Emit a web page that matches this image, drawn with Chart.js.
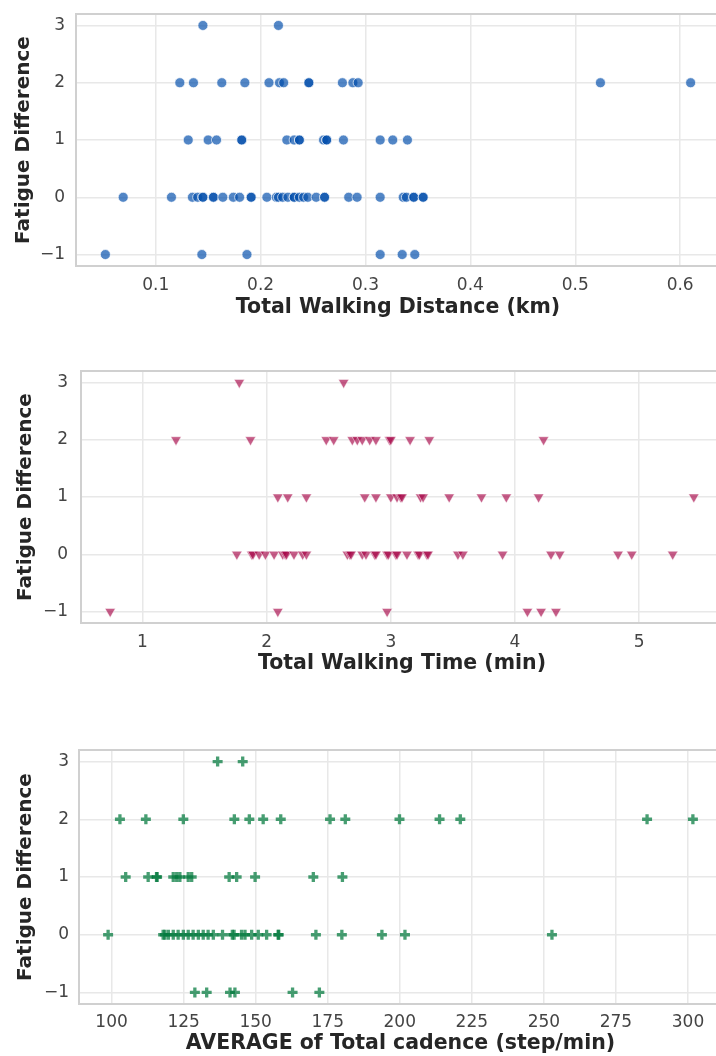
<!DOCTYPE html>
<html><head><meta charset="utf-8">
<script src="https://cdn.jsdelivr.net/npm/chart.js@4.4.0/dist/chart.umd.min.js"></script>
<style>
html,body{margin:0;padding:0;background:#fff;width:716px;height:1056px;overflow:hidden;position:relative;}
.p{position:absolute;left:0;}
canvas{display:block;}
</style></head><body>
<div class="p" style="top:0px"><canvas id="c1" width="740" height="330"></canvas></div>
<div class="p" style="top:357px"><canvas id="c2" width="740" height="330"></canvas></div>
<div class="p" style="top:736px"><canvas id="c3" width="740" height="320"></canvas></div>
<script>
// ---------- DATA ----------
const fatigueTicks = [-1, 0, 1, 2, 3];
const fatigueTickLabels = ['\u22121', '0', '1', '2', '3'];

// Panel 1: Total Walking Distance (km), grouped by Fatigue Difference
const distFd3  = [0.145, 0.217];
const distFd2  = [0.123, 0.136, 0.163, 0.185, 0.208, 0.218, 0.222, 0.246, 0.246, 0.278, 0.288, 0.293, 0.524, 0.610];
const distFd1  = [0.131, 0.150, 0.158, 0.182, 0.182, 0.225, 0.232, 0.237, 0.237, 0.260, 0.263, 0.263, 0.279, 0.314, 0.326, 0.340];
const distFd0  = [0.069, 0.115, 0.135, 0.140, 0.145, 0.145, 0.155, 0.155, 0.164, 0.174, 0.180, 0.191, 0.191, 0.206, 0.215, 0.217, 0.221, 0.226, 0.232, 0.232, 0.237, 0.241, 0.245, 0.253, 0.261, 0.261, 0.284, 0.292, 0.314, 0.336, 0.339, 0.346, 0.346, 0.355, 0.355];
const distFdM1 = [0.052, 0.144, 0.187, 0.314, 0.335, 0.347];
const distTicks = [0.1, 0.2, 0.3, 0.4, 0.5, 0.6];
const distTickLabels = ['0.1', '0.2', '0.3', '0.4', '0.5', '0.6'];

// Panel 2: Total Walking Time (min)
const timeFd3  = [1.78, 2.62];
const timeFd2  = [1.27, 1.87, 2.48, 2.54, 2.69, 2.73, 2.77, 2.83, 2.88, 2.99, 3.00, 3.155, 3.31, 4.23];
const timeFd1  = [2.09, 2.17, 2.32, 2.79, 2.88, 3.00, 3.05, 3.08, 3.09, 3.24, 3.26, 3.47, 3.73, 3.93, 4.19, 5.44];
const timeFd0  = [1.76, 1.88, 1.89, 1.94, 1.99, 2.06, 2.13, 2.15, 2.16, 2.22, 2.29, 2.32, 2.65, 2.67, 2.68, 2.77, 2.80, 2.87, 2.88, 2.97, 2.98, 3.04, 3.05, 3.13, 3.22, 3.23, 3.29, 3.30, 3.54, 3.58, 3.90, 4.29, 4.36, 4.83, 4.94, 5.27];
const timeFdM1 = [0.74, 2.09, 2.97, 4.10, 4.21, 4.33];
const timeTicks = [1, 2, 3, 4, 5];
const timeTickLabels = ['1', '2', '3', '4', '5'];

// Panel 3: AVERAGE of Total cadence (step/min)
const cadFd3  = [136.8, 145.5];
const cadFd2  = [102.9, 111.9, 124.9, 142.6, 147.8, 152.6, 158.7, 175.8, 181.1, 199.9, 213.8, 221.0, 285.8, 301.7];
const cadFd1  = [104.9, 112.7, 115.6, 115.8, 121.4, 122.6, 123.7, 126.6, 127.8, 140.8, 143.4, 149.8, 170.0, 180.1];
const cadFd0  = [98.8, 117.9, 118.5, 119.7, 121.4, 123.1, 124.9, 126.6, 128.3, 130.1, 131.8, 133.5, 135.3, 138.5, 141.9, 142.5, 145.1, 146.3, 148.6, 150.9, 153.8, 157.8, 158.0, 170.9, 179.9, 193.8, 201.8, 252.8];
const cadFdM1 = [128.9, 133.0, 141.1, 142.8, 162.8, 172.1];
const cadTicks = [100, 125, 150, 175, 200, 225, 250, 275, 300];
const cadTickLabels = ['100', '125', '150', '175', '200', '225', '250', '275', '300'];

function toPoints(groups) {
  const pts = [];
  groups.forEach(([fd, xs]) => xs.forEach(x => pts.push({x: x, y: fd})));
  return pts;
}

// ---------- DRAWING ----------
const frame = {
  id: 'frame',
  beforeDatasetsDraw(chart) {
    const {ctx, chartArea: a} = chart;
    ctx.save();
    ctx.strokeStyle = '#d0d0d0';
    ctx.lineWidth = 2;
    ctx.strokeRect(a.left, a.top, a.right - a.left, a.bottom - a.top);
    ctx.restore();
  }
};

const FONT = 'DejaVu Sans';

function panel(id, p) {
  return new Chart(document.getElementById(id), {
    type: 'scatter',
    data: { datasets: [{
      data: p.points,
      pointStyle: p.style,
      rotation: p.rotation || 0,
      pointRadius: p.radius,
      pointHoverRadius: p.radius,
      backgroundColor: p.fill,
      borderColor: p.edge,
      borderWidth: p.edgeWidth
    }]},
    options: {
      responsive: false, animation: false, events: [],
      layout: { padding: { top: 14, right: p.padRight, bottom: 0, left: 0 } },
      plugins: { legend: { display: false }, tooltip: { enabled: false } },
      scales: {
        x: {
          type: 'linear', position: 'bottom', min: p.xMin, max: p.xMax,
          afterBuildTicks: s => { s.ticks = p.xTicks.map(v => ({value: v})); },
          afterFit: s => { s.height = p.axisH; s.paddingLeft = 0; s.paddingRight = 0; },
          grid: { color: '#e8e8e8', lineWidth: 1.5, drawTicks: false },
          border: { display: false },
          ticks: { padding: p.tickPad, color: '#444', autoSkip: false, maxRotation: 0,
                   font: { family: FONT, size: 17 },
                   callback: (v, i) => p.xTickLabels[i] },
          title: { display: true, text: p.xTitle, color: '#262626',
                   font: { family: FONT, size: 20.5, weight: 'bold' },
                   padding: { top: 0, bottom: p.titlePad } }
        },
        y: {
          type: 'linear', position: 'left', min: -1.2, max: 3.2,
          afterBuildTicks: s => { s.ticks = fatigueTicks.map(v => ({value: v})); },
          afterFit: s => { s.width = p.yWidth; s.paddingTop = 0; s.paddingBottom = 0; },
          grid: { color: '#e8e8e8', lineWidth: 1.5, drawTicks: false },
          border: { display: false },
          ticks: { padding: p.yTickPad, color: '#444',
                   font: { family: FONT, size: 17 },
                   callback: (v, i) => fatigueTickLabels[i] },
          title: { display: true, text: 'Fatigue Difference', color: '#262626',
                   font: { family: FONT, size: 20, weight: 'bold' },
                   padding: { top: p.yTitlePad, bottom: 0 } }
        }
      }
    },
    plugins: [frame]
  });
}

panel('c1', {
  points: toPoints([[3, distFd3], [2, distFd2], [1, distFd1], [0, distFd0], [-1, distFdM1]]),
  style: 'circle', radius: 5, fill: 'rgba(0,76,171,0.68)', edge: 'rgba(255,255,255,0.85)', edgeWidth: 0.8,
  xMin: 0.024, xMax: 0.638, xTicks: distTicks, xTickLabels: distTickLabels,
  xTitle: 'Total Walking Distance (km)',
  yWidth: 76, padRight: 20, axisH: 64, tickPad: 9, titlePad: 10, yTickPad: 11, yTitlePad: 12
});

panel('c2', {
  points: toPoints([[3, timeFd3], [2, timeFd2], [1, timeFd1], [0, timeFd0], [-1, timeFdM1]]),
  style: 'triangle', rotation: 180, radius: 6, fill: 'rgba(165,0,68,0.64)', edge: 'rgba(255,255,255,0.8)', edgeWidth: 0.6,
  xMin: 0.505, xMax: 5.675, xTicks: timeTicks, xTickLabels: timeTickLabels,
  xTitle: 'Total Walking Time (min)',
  yWidth: 81, padRight: 17, axisH: 64, tickPad: 9.5, titlePad: 11.5, yTickPad: 13, yTitlePad: 14
});

panel('c3', {
  points: toPoints([[3, cadFd3], [2, cadFd2], [1, cadFd1], [0, cadFd0], [-1, cadFdM1]]),
  style: 'cross', radius: 5, fill: 'rgba(0,120,60,0.72)', edge: 'rgba(0,120,60,0.72)', edgeWidth: 3.3,
  xMin: 88.7, xMax: 311.8, xTicks: cadTicks, xTickLabels: cadTickLabels,
  xTitle: 'AVERAGE of Total cadence (step/min)',
  yWidth: 79, padRight: 18, axisH: 52, tickPad: 8.5, titlePad: 0, yTickPad: 10, yTitlePad: 14
});
</script>
</body></html>
